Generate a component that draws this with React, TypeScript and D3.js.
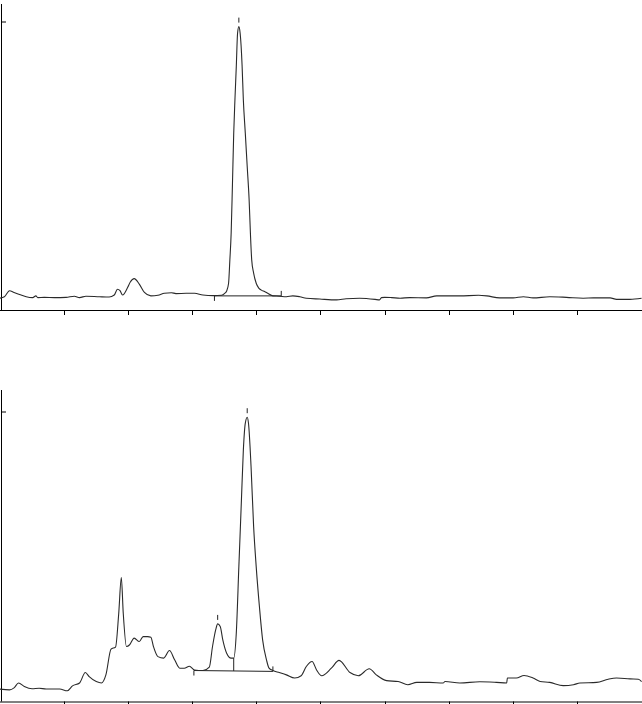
import React from "react";
import * as d3 from "d3";

// Time (min) and signal (% of full scale) for the upper chromatogram
const topTime = [0.00,0.08,0.16,0.23,0.34,0.42,0.52,0.57,0.60,0.70,0.86,1.04,1.17,1.25,1.35,1.56,1.71,1.79,1.84,1.88,1.92,2.00,2.04,2.10,2.18,2.26,2.36,2.47,2.57,2.68,2.75,2.91,3.04,3.17,3.33,3.46,3.51,3.54,3.57,3.59,3.61,3.63,3.65,3.67,3.69,3.71,3.73,3.75,3.78,3.80,3.83,3.86,3.89,3.91,3.93,3.96,4.00,4.04,4.08,4.13,4.18,4.26,4.36,4.47,4.57,4.68,4.78,4.99,5.25,5.40,5.61,5.85,5.92,5.95,6.00,6.11,6.24,6.39,6.65,6.81,7.17,7.46,7.59,7.79,8.00,8.16,8.31,8.57,8.83,9.09,9.25,9.51,9.61,9.82,10.0];
const topSignal = [4.1,4.6,6.7,6.1,5.2,4.6,4.3,4.9,4.3,4.4,4.3,4.4,4.8,4.3,4.8,4.6,4.5,5.2,7.2,6.7,5.2,7.9,9.7,10.9,9.0,6.1,4.9,5.1,5.8,6.0,5.7,5.8,5.8,5.2,5.0,5.1,5.8,6.6,9.3,17.4,26.6,43.4,61.4,73.6,84.5,96.1,98.4,96.1,85.1,72.9,61.5,49.8,38.2,26.6,17.4,12.8,9.3,7.6,6.9,6.4,5.8,4.9,4.8,4.6,4.9,4.6,4.1,3.8,3.5,3.9,4.1,3.7,3.5,4.3,4.4,4.3,4.1,4.3,4.2,4.9,4.9,5.1,4.9,4.2,4.2,4.6,4.2,4.6,4.4,4.1,4.2,4.2,3.7,3.7,4.1];

// Time (min) and signal (% of full scale) for the lower chromatogram
const bottomTime = [0.00,0.16,0.23,0.30,0.39,0.51,0.62,0.73,0.94,1.06,1.14,1.25,1.34,1.40,1.51,1.59,1.66,1.74,1.81,1.86,1.90,1.93,1.98,2.03,2.10,2.18,2.24,2.31,2.36,2.40,2.47,2.56,2.65,2.73,2.81,2.88,2.96,3.04,3.17,3.27,3.32,3.37,3.40,3.44,3.48,3.54,3.61,3.65,3.69,3.73,3.77,3.80,3.83,3.86,3.88,3.92,3.96,4.00,4.05,4.10,4.16,4.20,4.26,4.36,4.47,4.60,4.70,4.78,4.87,4.94,5.02,5.17,5.29,5.46,5.59,5.76,5.87,6.03,6.21,6.36,6.50,6.70,6.91,6.94,7.17,7.48,7.74,7.90,7.91,8.05,8.17,8.31,8.42,8.57,8.78,8.94,9.04,9.30,9.48,9.61,9.82,9.95,10.0];
const bottomSignal = [4.3,4.0,4.7,6.4,5.2,4.4,4.6,4.3,4.3,3.7,5.4,6.4,10.0,8.6,6.9,6.4,9.2,18.1,18.8,30.5,42.8,30.6,19.0,19.6,21.9,20.7,22.4,22.4,22.2,19.0,15.5,15.0,17.6,14.4,11.5,11.5,12.2,10.9,10.7,11.9,19.0,24.8,26.8,25.9,21.3,16.7,15.0,15.0,23.6,46.6,69.6,86.9,96.1,98.2,96.1,81.1,60.4,46.6,32.8,21.3,14.4,11.5,10.7,10.0,9.2,8.1,8.9,12.1,13.8,10.9,8.9,11.5,14.2,10.0,8.9,11.3,9.2,7.2,6.9,5.8,6.6,6.6,6.4,6.9,6.4,6.8,6.6,6.4,8.1,8.1,9.0,8.1,6.9,6.6,5.5,5.8,6.4,6.6,7.7,8.1,7.8,7.7,6.9];

const xTicks = [1,2,3,4,5,6,7,8,9,10];

// Integration baselines [startTime, startValue, endTime, endValue]
const topBaseline = [3.35, 4.9, 4.39, 4.9];
const bottomBaseline = [3.03, 10.7, 4.26, 10.4];
// Peak apex markers
const topPeaks = [3.73];
const bottomPeaks = [3.40, 3.86];
// Valley drop line in the lower trace [time, valueTop]
const bottomDrop = [3.65, 15.0];

type PanelProps = {
  time: number[];
  signal: number[];
  yAxisTop: number;
  yTickPos: number;
  yBottom: number;
  baseline: number[];
  peaks: number[];
  drop?: number[];
};

const x = d3.scaleLinear().domain([1, 10]).range([63.5, 641.6]);

function Panel({ time, signal, yAxisTop, yTickPos, yBottom, baseline, peaks, drop }: PanelProps) {
  const y = d3.scaleLinear().domain([0, 100]).range([yBottom, yTickPos]);
  const pts = time.map((t, i) => [t, signal[i]] as [number, number]);
  const line = d3
    .line<[number, number]>()
    .x((d) => x(d[0]))
    .y((d) => y(d[1]))
    .curve(d3.curveMonotoneX);
  const interp = (t: number) => {
    const i = d3.bisector((d: number) => d).left(time, t);
    if (i <= 0) return signal[0];
    if (i >= time.length) return signal[signal.length - 1];
    const t0 = time[i - 1], t1 = time[i];
    return signal[i - 1] + ((signal[i] - signal[i - 1]) * (t - t0)) / (t1 - t0);
  };
  const [bs, bsv, be, bev] = baseline;
  const baseAt = (t: number) => bsv + ((bev - bsv) * (t - bs)) / (be - bs);
  return (
    <g>
      <line x1={1.5} x2={1.5} y1={yAxisTop} y2={yBottom} stroke="#000" strokeWidth={1} />
      <line x1={1.5} x2={6} y1={yTickPos} y2={yTickPos} stroke="#000" strokeWidth={1} />
      <line x1={0} x2={642} y1={yBottom + 0.5} y2={yBottom + 0.5} stroke="#000" strokeWidth={1} />
      {xTicks.map((t) => (
        <line key={t} x1={Math.round(x(t)) + 0.5} x2={Math.round(x(t)) + 0.5} y1={yBottom} y2={yBottom + 5} stroke="#000" strokeWidth={1} />
      ))}
      <line x1={x(bs)} x2={x(be)} y1={y(bsv)} y2={y(bev)} stroke="#222" strokeWidth={1} />
      <line x1={x(bs)} x2={x(bs)} y1={y(bsv)} y2={y(bsv) + 5} stroke="#222" strokeWidth={1} />
      <line x1={x(be)} x2={x(be)} y1={y(bev)} y2={y(bev) - 5} stroke="#222" strokeWidth={1} />
      {drop && (
        <line x1={x(drop[0])} x2={x(drop[0])} y1={y(drop[1])} y2={y(baseAt(drop[0]))} stroke="#222" strokeWidth={1} />
      )}
      {peaks.map((p) => {
        const top = y(interp(p));
        return <line key={p} x1={x(p)} x2={x(p)} y1={top - 9} y2={top - 4} stroke="#222" strokeWidth={1} />;
      })}
      <path d={line(pts) || ""} fill="none" stroke="#2a2a2a" strokeWidth={1.1} strokeLinejoin="round" />
    </g>
  );
}

export default function App() {
  return (
    <svg width={642} height={704} style={{ position: "absolute", left: 0, top: 0, background: "#fff" }}>
      <rect x={0} y={0} width={642} height={704} fill="#fff" />
      <Panel time={topTime} signal={topSignal} yAxisTop={4} yTickPos={22} yBottom={310} baseline={topBaseline} peaks={topPeaks} />
      <Panel time={bottomTime} signal={bottomSignal} yAxisTop={390} yTickPos={412} yBottom={701.5} baseline={bottomBaseline} peaks={bottomPeaks} drop={bottomDrop} />
    </svg>
  );
}
